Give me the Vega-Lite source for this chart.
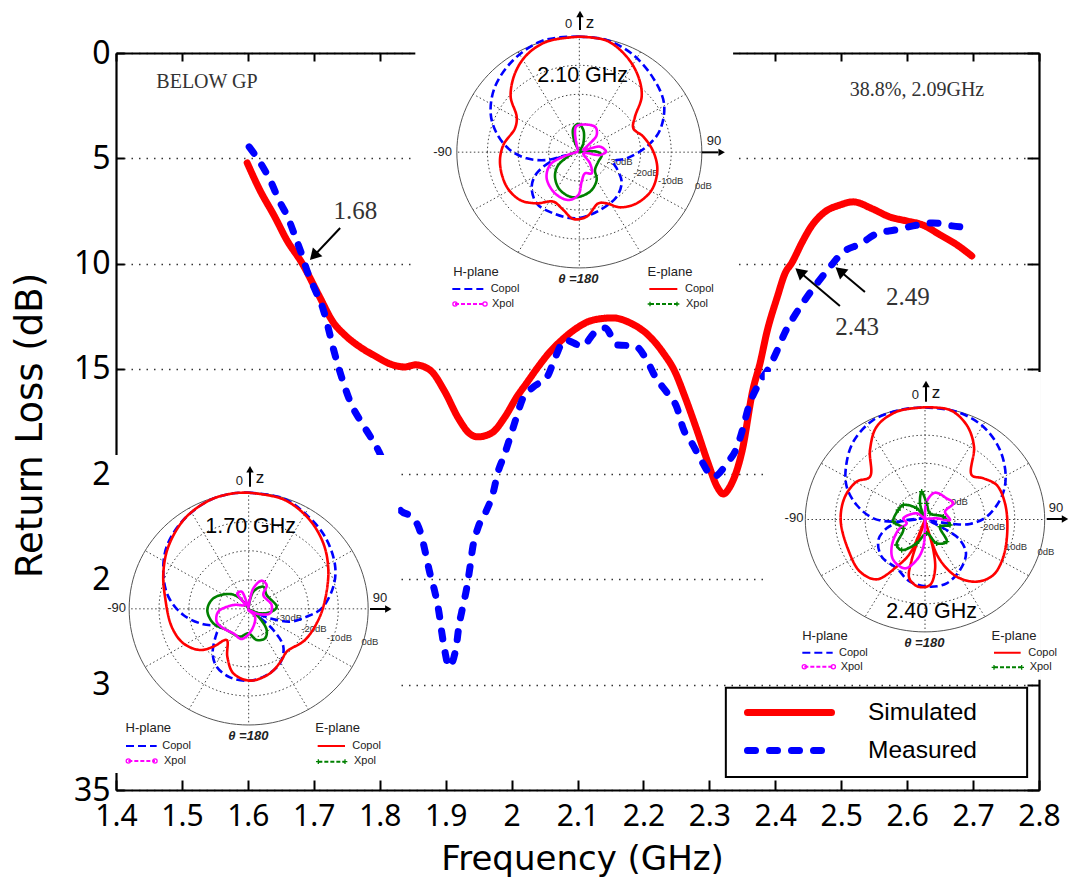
{
"$schema":"https://vega.github.io/schema/vega-lite/v6.json",
"width":923,"height":737,
"autosize":{"type":"none"},
"padding":{"left":116,"top":53,"right":36,"bottom":94},
"background":"white",
"config":{"view":{"stroke":null},"legend":{"symbolType":"M-2.8,0H2.8","symbolSize":900,"symbolStrokeWidth":7,"labelFont":"Liberation Sans","labelFontSize":24.5,"labelColor":"#000","labelOffset":60,"rowPadding":5,"padding":0,"labelLimit":300}},
"resolve":{"scale":{"x":"independent","y":"independent","color":"independent","strokeDash":"independent","size":"independent","shape":"independent"}},
"layer":[
{"data":{"values":[{"f":1.4,"d":0}]},"mark":{"type":"point","opacity":0},
"encoding":{"x":{"field":"f","type":"quantitative","scale":{"domain":[1.4,2.8]},"axis":{"orient":"top","values":[1.4,1.5,1.6,1.7,1.8,1.9,2,2.1,2.2,2.3,2.4,2.5,2.6,2.7,2.8],"labels":false,"title":null,"tickSize":-8,"tickWidth":2,"tickColor":"#000","domainWidth":2.2,"domainColor":"#000","grid":false}},
"y":{"field":"d","type":"quantitative","scale":{"domain":[35,0]},"axis":{"orient":"right","values":[0,5,10,15,20,25,30,35],"labels":false,"title":null,"tickSize":-12,"tickWidth":2,"tickColor":"#000","domainWidth":2.2,"domainColor":"#000","grid":false}}}},
{"encoding":{"x":{"field":"f","type":"quantitative","scale":{"domain":[1.4,2.8]},"axis":{"orient":"bottom","values":[1.4,1.5,1.6,1.7,1.8,1.9,2,2.1,2.2,2.3,2.4,2.5,2.6,2.7,2.8],"format":".2~g","labelOverlap":false,"labelFlush":false,"labelFont":"Noto Sans","labelFontSize":30,"labelColor":"#000","labelPadding":21,"labelDx":5,"tickSize":-10,"tickWidth":2,"tickColor":"#000","domainWidth":2.2,"domainColor":"#000","grid":false,"title":"Frequency  (GHz)","titleFont":"DejaVu Sans","titleFontSize":34,"titleFontWeight":"normal","titleColor":"#000","titleX":466,"titleY":52}},
"y":{"field":"d","type":"quantitative","scale":{"domain":[35,0]},"axis":{"orient":"left","values":[0,5,10,15,20,25,30,35],"labelExpr":"datum.value==20||datum.value==25?'2\u2007':datum.value==30?'3\u2007':datum.label","labelOverlap":false,"labelFlush":false,"labelFont":"Noto Sans","labelFontSize":32,"labelColor":"#000","labelPadding":14,"tickSize":-8,"tickWidth":2,"tickColor":"#000","domainWidth":2.2,"domainColor":"#000","grid":true,"gridDash":[1.5,6],"gridWidth":1.5,"gridColor":"#333","title":"Return Loss (dB)","titleFont":"DejaVu Sans","titleFontSize":37,"titleFontWeight":"normal","titleColor":"#000","titleX":-67,"titleY":372}}},
"layer":[
{"data":{"values":[
{"series":"Simulated","f":1.599,"d":5.22},{"series":"Simulated","f":1.618,"d":6.5},{"series":"Simulated","f":1.641,"d":7.79},{"series":"Simulated","f":1.659,"d":8.88},{"series":"Simulated","f":1.682,"d":9.97},{"series":"Simulated","f":1.709,"d":11.59},{"series":"Simulated","f":1.729,"d":12.77},{"series":"Simulated","f":1.747,"d":13.39},{"series":"Simulated","f":1.77,"d":13.96},{"series":"Simulated","f":1.793,"d":14.39},{"series":"Simulated","f":1.816,"d":14.77},{"series":"Simulated","f":1.838,"d":14.91},{"series":"Simulated","f":1.854,"d":14.81},{"series":"Simulated","f":1.876,"d":15.05},{"series":"Simulated","f":1.899,"d":16.1},{"series":"Simulated","f":1.919,"d":17.33},{"series":"Simulated","f":1.937,"d":18.09},{"series":"Simulated","f":1.949,"d":18.23},{"series":"Simulated","f":1.97,"d":18.04},{"series":"Simulated","f":1.99,"d":17.28},{"series":"Simulated","f":2.008,"d":16.33},{"series":"Simulated","f":2.023,"d":15.67},{"series":"Simulated","f":2.039,"d":14.96},{"series":"Simulated","f":2.058,"d":14.2},{"series":"Simulated","f":2.078,"d":13.58},{"series":"Simulated","f":2.099,"d":13.06},{"series":"Simulated","f":2.124,"d":12.68},{"series":"Simulated","f":2.154,"d":12.58},{"series":"Simulated","f":2.18,"d":12.82},{"series":"Simulated","f":2.207,"d":13.39},{"series":"Simulated","f":2.23,"d":14.24},{"series":"Simulated","f":2.248,"d":15.15},{"series":"Simulated","f":2.263,"d":16.33},{"series":"Simulated","f":2.281,"d":17.9},{"series":"Simulated","f":2.298,"d":19.47},{"series":"Simulated","f":2.312,"d":20.61},{"series":"Simulated","f":2.321,"d":20.94},{"series":"Simulated","f":2.331,"d":20.61},{"series":"Simulated","f":2.35,"d":18.85},{"series":"Simulated","f":2.366,"d":16.0},{"series":"Simulated","f":2.377,"d":14.72},{"series":"Simulated","f":2.387,"d":13.29},{"series":"Simulated","f":2.403,"d":11.59},{"series":"Simulated","f":2.415,"d":10.45},{"series":"Simulated","f":2.425,"d":9.97},{"series":"Simulated","f":2.441,"d":8.97},{"series":"Simulated","f":2.453,"d":8.31},{"series":"Simulated","f":2.475,"d":7.55},{"series":"Simulated","f":2.498,"d":7.22},{"series":"Simulated","f":2.518,"d":7.07},{"series":"Simulated","f":2.548,"d":7.41},{"series":"Simulated","f":2.574,"d":7.79},{"series":"Simulated","f":2.6,"d":7.98},{"series":"Simulated","f":2.624,"d":8.17},{"series":"Simulated","f":2.65,"d":8.64},{"series":"Simulated","f":2.676,"d":9.12},{"series":"Simulated","f":2.698,"d":9.64},
{"series":"Measured","f":1.602,"d":4.46},{"series":"Measured","f":1.621,"d":5.32},{"series":"Measured","f":1.635,"d":6.12},{"series":"Measured","f":1.647,"d":6.98},{"series":"Measured","f":1.661,"d":7.83},{"series":"Measured","f":1.672,"d":8.74},{"series":"Measured","f":1.682,"d":9.59},{"series":"Measured","f":1.691,"d":10.45},{"series":"Measured","f":1.702,"d":11.25},{"series":"Measured","f":1.714,"d":12.15},{"series":"Measured","f":1.722,"d":13.06},{"series":"Measured","f":1.729,"d":13.96},{"series":"Measured","f":1.737,"d":14.86},{"series":"Measured","f":1.746,"d":15.76},{"series":"Measured","f":1.756,"d":16.62},{"series":"Measured","f":1.77,"d":17.43},{"series":"Measured","f":1.785,"d":18.18},{"series":"Measured","f":1.799,"d":18.94},{"series":"Measured","f":1.831,"d":21.7},{"series":"Measured","f":1.851,"d":22.08},{"series":"Measured","f":1.863,"d":22.89},{"series":"Measured","f":1.87,"d":23.83},{"series":"Measured","f":1.876,"d":24.69},{"series":"Measured","f":1.884,"d":25.64},{"series":"Measured","f":1.89,"d":26.59},{"series":"Measured","f":1.894,"d":27.49},{"series":"Measured","f":1.899,"d":28.44},{"series":"Measured","f":1.905,"d":29.15},{"series":"Measured","f":1.916,"d":28.2},{"series":"Measured","f":1.92,"d":27.25},{"series":"Measured","f":1.926,"d":26.3},{"series":"Measured","f":1.932,"d":25.4},{"series":"Measured","f":1.937,"d":24.4},{"series":"Measured","f":1.941,"d":23.5},{"series":"Measured","f":1.949,"d":22.55},{"series":"Measured","f":1.961,"d":21.79},{"series":"Measured","f":1.972,"d":20.89},{"series":"Measured","f":1.979,"d":19.94},{"series":"Measured","f":1.989,"d":19.09},{"series":"Measured","f":1.998,"d":18.23},{"series":"Measured","f":2.007,"d":17.33},{"series":"Measured","f":2.016,"d":16.48},{"series":"Measured","f":2.033,"d":15.86},{"series":"Measured","f":2.054,"d":15.38},{"series":"Measured","f":2.066,"d":14.48},{"series":"Measured","f":2.081,"d":13.63},{"series":"Measured","f":2.107,"d":13.91},{"series":"Measured","f":2.127,"d":13.25},{"series":"Measured","f":2.142,"d":13.06},{"series":"Measured","f":2.16,"d":13.86},{"series":"Measured","f":2.187,"d":13.91},{"series":"Measured","f":2.205,"d":14.58},{"series":"Measured","f":2.218,"d":15.38},{"series":"Measured","f":2.236,"d":16.14},{"series":"Measured","f":2.251,"d":16.86},{"series":"Measured","f":2.26,"d":17.81},{"series":"Measured","f":2.275,"d":18.61},{"series":"Measured","f":2.289,"d":19.42},{"series":"Measured","f":2.306,"d":20.13},{"series":"Measured","f":2.327,"d":19.47},{"series":"Measured","f":2.342,"d":18.71},{"series":"Measured","f":2.351,"d":17.81},{"series":"Measured","f":2.359,"d":16.86},{"series":"Measured","f":2.374,"d":15.76},{"series":"Measured","f":2.391,"d":14.91},{"series":"Measured","f":2.404,"d":14.05},{"series":"Measured","f":2.415,"d":13.25},{"series":"Measured","f":2.43,"d":12.44},{"series":"Measured","f":2.447,"d":11.63},{"series":"Measured","f":2.465,"d":10.87},{"series":"Measured","f":2.483,"d":10.16},{"series":"Measured","f":2.503,"d":9.45},{"series":"Measured","f":2.529,"d":9.07},{"series":"Measured","f":2.553,"d":8.59},{"series":"Measured","f":2.582,"d":8.4},{"series":"Measured","f":2.609,"d":8.21},{"series":"Measured","f":2.639,"d":8.07},{"series":"Measured","f":2.668,"d":8.21},{"series":"Measured","f":2.698,"d":8.31}
]},
"mark":{"type":"line","strokeWidth":7,"strokeCap":"round","strokeJoin":"round","interpolate":"monotone"},
"encoding":{"color":{"field":"series","type":"nominal","scale":{"domain":["Simulated","Measured"],"range":["#ff0000","#0000ff"]},"legend":{"orient":"none","legendX":655,"legendY":641,"title":null,"encode":{"symbols":{"update":{"strokeCap":{"value":"round"}}}}}},
"strokeDash":{"field":"series","type":"nominal","scale":{"domain":["Simulated","Measured"],"range":[[1,0],[8,14]]},"legend":{"orient":"none","legendX":655,"legendY":641,"title":null,"encode":{"symbols":{"update":{"strokeCap":{"value":"round"}}}}}},
"order":{"value":null}}},
{"data":{"values":[{"f":1.74,"d":8.31,"f2":1.7,"d2":9.64},{"f":2.498,"d":12.01,"f2":2.437,"d2":10.4},{"f":2.536,"d":11.35,"f2":2.498,"d2":10.35}]},"mark":{"type":"rule","color":"#000","strokeWidth":2},"encoding":{"x2":{"field":"f2"},"y2":{"field":"d2"}}},
{"data":{"values":[{"f":1.7,"d":9.64}]},"mark":{"type":"point","shape":"triangle-up","filled":true,"color":"#000","opacity":1,"size":170,"angle":223}},
{"data":{"values":[{"f":2.437,"d":10.4},{"f":2.498,"d":10.35}]},"mark":{"type":"point","shape":"triangle-up","filled":true,"color":"#000","opacity":1,"size":170,"angle":310}},
{"data":{"values":[{"t":"1.68","f":1.763,"d":7.5},{"t":"2.43","f":2.524,"d":13.01},{"t":"2.49","f":2.601,"d":11.59}]},"mark":{"type":"text","font":"Liberation Serif","fontSize":25,"color":"#333"},"encoding":{"text":{"field":"t"}}},
{"data":{"values":[{"t":"BELOW GP","f":1.538,"d":1.38},{"t":"38.8%, 2.09GHz","f":2.615,"d":1.76}]},"mark":{"type":"text","font":"Liberation Serif","fontSize":20,"color":"#333"},"encoding":{"text":{"field":"t"}}}
]},
{"data":{"values":[{"f":1.854,"d":-0.2,"f2":2.336,"d2":11.5},{"f":1.3955,"d":19.09,"f2":1.828,"d2":34.19},{"f":2.384,"d":15.15,"f2":2.803,"d2":29.77}]},"mark":{"type":"rect","color":"#fff"},
"encoding":{"x":{"field":"f","type":"quantitative","scale":{"domain":[1.4,2.8]},"axis":null},"x2":{"field":"f2"},"y":{"field":"d","type":"quantitative","scale":{"domain":[35,0]},"axis":null},"y2":{"field":"d2"}}},
{"data":{"values":[{"f":2.325,"d":30.15,"f2":2.782,"d2":34.38}]},"mark":{"type":"rect","fill":"#fff","stroke":"#000","strokeWidth":2},
"encoding":{"x":{"field":"f","type":"quantitative","scale":{"domain":[1.4,2.8]},"axis":null},"x2":{"field":"f2"},"y":{"field":"d","type":"quantitative","scale":{"domain":[35,0]},"axis":null},"y2":{"field":"d2"}}},

{"encoding":{"x":{"field":"u","type":"quantitative","scale":{"domain":[-912,1857]},"axis":null},"y":{"field":"v","type":"quantitative","scale":{"domain":[2370,159]},"axis":null}},
"layer":[
{"data":{"values":[{"u":478,"v":456.5}]},"mark":{"type":"point","shape":"M-1,0A1,0.945,0,1,1,1,0A1,0.945,0,1,1,-1,0Z","size":60025,"stroke":"#555","strokeWidth":1,"filled":false,"opacity":1}},
{"data":{"values":[{"u":478,"v":456.5,"ring":-10},{"u":478,"v":456.5,"ring":-20},{"u":478,"v":456.5,"ring":-30}]},"mark":{"type":"point","shape":"M-1,0A1,0.945,0,1,1,1,0A1,0.945,0,1,1,-1,0Z","stroke":"#444","strokeWidth":1,"strokeDash":[1.5,2.5],"filled":false,"opacity":1},"encoding":{"size":{"field":"ring","type":"quantitative","scale":{"domain":[-30,-20,-10],"range":[3752,15006,33780]},"legend":null}}},
{"data":{"values":[{"u":478,"v":456.5,"u2":478,"v2":109.5},{"u":478,"v":456.5,"u2":661.5,"v2":156},{"u":478,"v":456.5,"u2":796,"v2":283},{"u":478,"v":456.5,"u2":845,"v2":456.5},{"u":478,"v":456.5,"u2":796,"v2":630},{"u":478,"v":456.5,"u2":661.5,"v2":757},{"u":478,"v":456.5,"u2":478,"v2":803.5},{"u":478,"v":456.5,"u2":294.5,"v2":757},{"u":478,"v":456.5,"u2":160,"v2":630},{"u":478,"v":456.5,"u2":111,"v2":456.5},{"u":478,"v":456.5,"u2":160,"v2":283},{"u":478,"v":456.5,"u2":294.5,"v2":156}]},"mark":{"type":"rule","stroke":"#444","strokeWidth":1,"strokeDash":[1.5,2.5]},"encoding":{"x2":{"field":"u2"},"y2":{"field":"v2"}}},
{"data":{"values":[{"t":"-30dB","u":600,"v":485},{"t":"-20dB","u":678,"v":518},{"t":"-10dB","u":752,"v":543},{"t":"0dB","u":850,"v":558}]},"mark":{"type":"text","font":"Liberation Sans","fontSize":9.5,"color":"#333"},"encoding":{"text":{"field":"t"}}},
{"data":{"values":[
{"c":"H Copol","u":478,"v":110},{"c":"H Copol","u":560,"v":120},{"c":"H Copol","u":640,"v":165},{"c":"H Copol","u":700,"v":235},{"c":"H Copol","u":732,"v":310},{"c":"H Copol","u":720,"v":390},{"c":"H Copol","u":680,"v":440},{"c":"H Copol","u":620,"v":475},{"c":"H Copol","u":580,"v":485},{"c":"H Copol","u":590,"v":505},{"c":"H Copol","u":605,"v":545},{"c":"H Copol","u":590,"v":590},{"c":"H Copol","u":540,"v":630},{"c":"H Copol","u":470,"v":655},{"c":"H Copol","u":400,"v":640},{"c":"H Copol","u":350,"v":610},{"c":"H Copol","u":335,"v":560},{"c":"H Copol","u":350,"v":520},{"c":"H Copol","u":400,"v":480},{"c":"H Copol","u":440,"v":465},{"c":"H Copol","u":380,"v":480},{"c":"H Copol","u":320,"v":475},{"c":"H Copol","u":270,"v":450},{"c":"H Copol","u":230,"v":400},{"c":"H Copol","u":212,"v":340},{"c":"H Copol","u":225,"v":260},{"c":"H Copol","u":280,"v":180},{"c":"H Copol","u":360,"v":125},{"c":"H Copol","u":420,"v":112},{"c":"H Copol","u":478,"v":110},
{"c":"E Copol","u":478,"v":110},{"c":"E Copol","u":560,"v":122},{"c":"E Copol","u":620,"v":170},{"c":"E Copol","u":655,"v":230},{"c":"E Copol","u":665,"v":290},{"c":"E Copol","u":645,"v":350},{"c":"E Copol","u":640,"v":385},{"c":"E Copol","u":670,"v":410},{"c":"E Copol","u":700,"v":455},{"c":"E Copol","u":712,"v":510},{"c":"E Copol","u":695,"v":570},{"c":"E Copol","u":650,"v":610},{"c":"E Copol","u":600,"v":622},{"c":"E Copol","u":560,"v":610},{"c":"E Copol","u":535,"v":610},{"c":"E Copol","u":500,"v":650},{"c":"E Copol","u":460,"v":657},{"c":"E Copol","u":430,"v":630},{"c":"E Copol","u":400,"v":605},{"c":"E Copol","u":350,"v":610},{"c":"E Copol","u":300,"v":600},{"c":"E Copol","u":260,"v":560},{"c":"E Copol","u":240,"v":490},{"c":"E Copol","u":250,"v":435},{"c":"E Copol","u":285,"v":385},{"c":"E Copol","u":290,"v":350},{"c":"E Copol","u":272,"v":290},{"c":"E Copol","u":285,"v":220},{"c":"E Copol","u":320,"v":165},{"c":"E Copol","u":380,"v":125},{"c":"E Copol","u":478,"v":110},
{"c":"E Xpol","u":478,"v":455},{"c":"E Xpol","u":462,"v":420},{"c":"E Xpol","u":460,"v":385},{"c":"E Xpol","u":475,"v":372},{"c":"E Xpol","u":490,"v":390},{"c":"E Xpol","u":490,"v":430},{"c":"E Xpol","u":480,"v":455},{"c":"E Xpol","u":490,"v":455},{"c":"E Xpol","u":530,"v":455},{"c":"E Xpol","u":545,"v":465},{"c":"E Xpol","u":535,"v":485},{"c":"E Xpol","u":525,"v":510},{"c":"E Xpol","u":530,"v":540},{"c":"E Xpol","u":510,"v":575},{"c":"E Xpol","u":460,"v":592},{"c":"E Xpol","u":420,"v":570},{"c":"E Xpol","u":405,"v":530},{"c":"E Xpol","u":415,"v":495},{"c":"E Xpol","u":465,"v":455},
{"c":"H Xpol","u":475,"v":455},{"c":"H Xpol","u":465,"v":400},{"c":"H Xpol","u":470,"v":378},{"c":"H Xpol","u":525,"v":380},{"c":"H Xpol","u":530,"v":405},{"c":"H Xpol","u":505,"v":435},{"c":"H Xpol","u":490,"v":450},{"c":"H Xpol","u":540,"v":440},{"c":"H Xpol","u":558,"v":455},{"c":"H Xpol","u":540,"v":465},{"c":"H Xpol","u":490,"v":460},{"c":"H Xpol","u":510,"v":490},{"c":"H Xpol","u":515,"v":520},{"c":"H Xpol","u":495,"v":520},{"c":"H Xpol","u":485,"v":545},{"c":"H Xpol","u":475,"v":585},{"c":"H Xpol","u":445,"v":600},{"c":"H Xpol","u":405,"v":580},{"c":"H Xpol","u":380,"v":535},{"c":"H Xpol","u":390,"v":495},{"c":"H Xpol","u":430,"v":470},{"c":"H Xpol","u":475,"v":455}
]},"mark":{"type":"line","strokeWidth":2.6,"interpolate":"catmull-rom"},"encoding":{"color":{"field":"c","type":"nominal","scale":{"domain":["H Copol","H Xpol","E Copol","E Xpol","H key","E key"],"range":["#0000ff","#ff00ff","#ff0000","#008000","#ff00ff","#008000"]},"legend":null},"strokeDash":{"field":"c","type":"nominal","scale":{"domain":["H Copol","H Xpol","E Copol","E Xpol","H key","E key"],"range":[[8,4],[1,0],[1,0],[1,0],[4,2],[4,2]]},"legend":null},"order":{"value":null}}},
{"data":{"values":[{"c":"H Copol","u":97,"v":867,"u2":190,"v2":867},{"c":"E Copol","u":688,"v":867,"u2":772,"v2":867},{"c":"H key","u":105,"v":912,"u2":195,"v2":912},{"c":"E key","u":690,"v":912,"u2":771,"v2":912}]},"mark":{"type":"rule","strokeWidth":2},"encoding":{"x2":{"field":"u2"},"y2":{"field":"v2"},"color":{"field":"c","type":"nominal","legend":null},"strokeDash":{"field":"c","type":"nominal","legend":null}}},
{"data":{"values":[{"u":105,"v":912},{"u":195,"v":912}]},"mark":{"type":"point","shape":"circle","size":18,"stroke":"#ff00ff","strokeWidth":1.3,"filled":false,"opacity":1}},
{"data":{"values":[{"u":690,"v":912},{"u":771,"v":912}]},"mark":{"type":"point","shape":"M-1,0H1M0,-1V1","size":22,"stroke":"#008000","strokeWidth":1.3,"filled":false,"opacity":1}},
{"data":{"values":[{"u":480,"v":90,"u2":480,"v2":50},{"u":845,"v":457,"u2":895,"v2":457}]},"mark":{"type":"rule","color":"#000","strokeWidth":2},"encoding":{"x2":{"field":"u2"},"y2":{"field":"v2"}}},
{"data":{"values":[{"u":480,"v":42}]},"mark":{"type":"point","shape":"triangle-up","size":55,"filled":true,"color":"#000","opacity":1}},
{"data":{"values":[{"u":905,"v":457}]},"mark":{"type":"point","shape":"triangle-right","size":55,"filled":true,"color":"#000","opacity":1}},
{"data":{"values":[{"t":"2.10 GHz","u":488,"v":228}]},"mark":{"type":"text","font":"Liberation Sans","fontSize":21.5,"color":"#000"},"encoding":{"text":{"field":"t"}}},
{"data":{"values":[{"t":"z","u":510,"v":68}]},"mark":{"type":"text","font":"Liberation Sans","fontSize":17,"color":"#111"},"encoding":{"text":{"field":"t"}}},
{"data":{"values":[{"t":"-90","u":68,"v":455},{"t":"90","u":882,"v":423},{"t":"0","u":446,"v":72},{"t":"H-plane","u":168,"v":815},{"t":"E-plane","u":750,"v":815}]},"mark":{"type":"text","font":"Liberation Sans","fontSize":13,"color":"#222"},"encoding":{"text":{"field":"t"}}},
{"data":{"values":[{"t":"Copol","u":255,"v":866},{"t":"Copol","u":838,"v":868},{"t":"Xpol","u":249,"v":912},{"t":"Xpol","u":831,"v":912}]},"mark":{"type":"text","font":"Liberation Sans","fontSize":11,"color":"#222"},"encoding":{"text":{"field":"t"}}},
{"data":{"values":[{"t":"θ =180","u":475,"v":838}]},"mark":{"type":"text","font":"Liberation Sans","fontSize":13,"fontStyle":"italic","fontWeight":"bold","color":"#222"},"encoding":{"text":{"field":"t"}}}
],"resolve":{"scale":{"size":"independent"}}},

{"encoding":{"x":{"field":"u","type":"quantitative","scale":{"domain":[348,3117]},"axis":null},"y":{"field":"v","type":"quantitative","scale":{"domain":[1050,-1161]},"axis":null}},
"layer":[
{"data":{"values":[{"u":746,"v":506.5}]},"mark":{"type":"point","shape":"M-1,0A1,0.972,0,1,1,1,0A1,0.972,0,1,1,-1,0Z","size":57121,"stroke":"#555","strokeWidth":1,"filled":false,"opacity":1}},
{"data":{"values":[{"u":746,"v":506.5,"ring":-10},{"u":746,"v":506.5,"ring":-20},{"u":746,"v":506.5,"ring":-30}]},"mark":{"type":"point","shape":"M-1,0A1,0.972,0,1,1,1,0A1,0.972,0,1,1,-1,0Z","stroke":"#444","strokeWidth":1,"strokeDash":[1.5,2.5],"filled":false,"opacity":1},"encoding":{"size":{"field":"ring","type":"quantitative","scale":{"domain":[-30,-20,-10],"range":[3570,14280,32131]},"legend":null}}},
{"data":{"values":[{"u":746,"v":506.5,"u2":746,"v2":158},{"u":746,"v":506.5,"u2":925,"v2":204.7},{"u":746,"v":506.5,"u2":1056.5,"v2":332},{"u":746,"v":506.5,"u2":1104.5,"v2":506.5},{"u":746,"v":506.5,"u2":1056.5,"v2":681},{"u":746,"v":506.5,"u2":925,"v2":808},{"u":746,"v":506.5,"u2":746,"v2":855},{"u":746,"v":506.5,"u2":567,"v2":808},{"u":746,"v":506.5,"u2":435.5,"v2":681},{"u":746,"v":506.5,"u2":387.5,"v2":506.5},{"u":746,"v":506.5,"u2":435.5,"v2":332},{"u":746,"v":506.5,"u2":567,"v2":204.7}]},"mark":{"type":"rule","stroke":"#444","strokeWidth":1,"strokeDash":[1.5,2.5]},"encoding":{"x2":{"field":"u2"},"y2":{"field":"v2"}}},
{"data":{"values":[{"t":"-30dB","u":868,"v":533},{"t":"-20dB","u":942,"v":568},{"t":"-10dB","u":1018,"v":595},{"t":"0dB","u":1110,"v":607}]},"mark":{"type":"text","font":"Liberation Sans","fontSize":9.5,"color":"#333"},"encoding":{"text":{"field":"t"}}},
{"data":{"values":[
{"c":"H Copol","u":746,"v":158},{"c":"H Copol","u":850,"v":175},{"c":"H Copol","u":920,"v":225},{"c":"H Copol","u":975,"v":290},{"c":"H Copol","u":1005,"v":375},{"c":"H Copol","u":1000,"v":440},{"c":"H Copol","u":965,"v":505},{"c":"H Copol","u":920,"v":530},{"c":"H Copol","u":870,"v":545},{"c":"H Copol","u":810,"v":535},{"c":"H Copol","u":775,"v":525},{"c":"H Copol","u":820,"v":570},{"c":"H Copol","u":850,"v":620},{"c":"H Copol","u":840,"v":670},{"c":"H Copol","u":800,"v":705},{"c":"H Copol","u":750,"v":722},{"c":"H Copol","u":690,"v":712},{"c":"H Copol","u":650,"v":680},{"c":"H Copol","u":638,"v":640},{"c":"H Copol","u":650,"v":580},{"c":"H Copol","u":660,"v":560},{"c":"H Copol","u":610,"v":553},{"c":"H Copol","u":550,"v":525},{"c":"H Copol","u":505,"v":470},{"c":"H Copol","u":490,"v":400},{"c":"H Copol","u":500,"v":320},{"c":"H Copol","u":550,"v":240},{"c":"H Copol","u":630,"v":180},{"c":"H Copol","u":700,"v":160},{"c":"H Copol","u":746,"v":158},
{"c":"E Copol","u":746,"v":158},{"c":"E Copol","u":850,"v":178},{"c":"E Copol","u":925,"v":235},{"c":"E Copol","u":970,"v":310},{"c":"E Copol","u":985,"v":390},{"c":"E Copol","u":975,"v":480},{"c":"E Copol","u":955,"v":540},{"c":"E Copol","u":915,"v":600},{"c":"E Copol","u":860,"v":635},{"c":"E Copol","u":845,"v":660},{"c":"E Copol","u":810,"v":700},{"c":"E Copol","u":750,"v":722},{"c":"E Copol","u":700,"v":700},{"c":"E Copol","u":682,"v":650},{"c":"E Copol","u":680,"v":600},{"c":"E Copol","u":640,"v":620},{"c":"E Copol","u":600,"v":630},{"c":"E Copol","u":550,"v":610},{"c":"E Copol","u":515,"v":560},{"c":"E Copol","u":495,"v":470},{"c":"E Copol","u":490,"v":400},{"c":"E Copol","u":505,"v":320},{"c":"E Copol","u":555,"v":235},{"c":"E Copol","u":630,"v":180},{"c":"E Copol","u":700,"v":160},{"c":"E Copol","u":746,"v":158},
{"c":"E Xpol","u":745,"v":505},{"c":"E Xpol","u":760,"v":455},{"c":"E Xpol","u":790,"v":440},{"c":"E Xpol","u":800,"v":465},{"c":"E Xpol","u":830,"v":500},{"c":"E Xpol","u":815,"v":515},{"c":"E Xpol","u":780,"v":520},{"c":"E Xpol","u":750,"v":510},{"c":"E Xpol","u":775,"v":530},{"c":"E Xpol","u":800,"v":570},{"c":"E Xpol","u":795,"v":595},{"c":"E Xpol","u":770,"v":600},{"c":"E Xpol","u":745,"v":580},{"c":"E Xpol","u":720,"v":590},{"c":"E Xpol","u":680,"v":570},{"c":"E Xpol","u":640,"v":550},{"c":"E Xpol","u":622,"v":510},{"c":"E Xpol","u":640,"v":475},{"c":"E Xpol","u":690,"v":462},{"c":"E Xpol","u":720,"v":475},{"c":"E Xpol","u":745,"v":505},
{"c":"H Xpol","u":745,"v":505},{"c":"H Xpol","u":760,"v":445},{"c":"H Xpol","u":785,"v":422},{"c":"H Xpol","u":800,"v":435},{"c":"H Xpol","u":790,"v":465},{"c":"H Xpol","u":815,"v":495},{"c":"H Xpol","u":810,"v":520},{"c":"H Xpol","u":775,"v":522},{"c":"H Xpol","u":745,"v":510},{"c":"H Xpol","u":765,"v":530},{"c":"H Xpol","u":755,"v":570},{"c":"H Xpol","u":725,"v":597},{"c":"H Xpol","u":700,"v":580},{"c":"H Xpol","u":670,"v":565},{"c":"H Xpol","u":650,"v":545},{"c":"H Xpol","u":655,"v":515},{"c":"H Xpol","u":700,"v":495},{"c":"H Xpol","u":735,"v":495},{"c":"H Xpol","u":725,"v":480},{"c":"H Xpol","u":712,"v":460},{"c":"H Xpol","u":725,"v":455},{"c":"H Xpol","u":745,"v":505}
]},"mark":{"type":"line","strokeWidth":2.6,"interpolate":"catmull-rom"},"encoding":{"color":{"field":"c","type":"nominal","scale":{"domain":["H Copol","H Xpol","E Copol","E Xpol","H key","E key"],"range":["#0000ff","#ff00ff","#ff0000","#008000","#ff00ff","#008000"]},"legend":null},"strokeDash":{"field":"c","type":"nominal","scale":{"domain":["H Copol","H Xpol","E Copol","E Xpol","H key","E key"],"range":[[8,4],[1,0],[1,0],[1,0],[4,2],[4,2]]},"legend":null},"order":{"value":null}}},
{"data":{"values":[{"c":"H Copol","u":378,"v":918,"u2":470,"v2":918},{"c":"E Copol","u":953,"v":918,"u2":1035,"v2":918},{"c":"H key","u":385,"v":963,"u2":465,"v2":963},{"c":"E key","u":955,"v":965,"u2":1035,"v2":965}]},"mark":{"type":"rule","strokeWidth":2},"encoding":{"x2":{"field":"u2"},"y2":{"field":"v2"},"color":{"field":"c","type":"nominal","legend":null},"strokeDash":{"field":"c","type":"nominal","legend":null}}},
{"data":{"values":[{"u":385,"v":963},{"u":465,"v":963}]},"mark":{"type":"point","shape":"circle","size":18,"stroke":"#ff00ff","strokeWidth":1.3,"filled":false,"opacity":1}},
{"data":{"values":[{"u":955,"v":965},{"u":1035,"v":965}]},"mark":{"type":"point","shape":"M-1,0H1M0,-1V1","size":22,"stroke":"#008000","strokeWidth":1.3,"filled":false,"opacity":1}},
{"data":{"values":[{"u":750,"v":140,"u2":750,"v2":95},{"u":1110,"v":507,"u2":1160,"v2":507}]},"mark":{"type":"rule","color":"#000","strokeWidth":2},"encoding":{"x2":{"field":"u2"},"y2":{"field":"v2"}}},
{"data":{"values":[{"u":750,"v":88}]},"mark":{"type":"point","shape":"triangle-up","size":55,"filled":true,"color":"#000","opacity":1}},
{"data":{"values":[{"u":1165,"v":507}]},"mark":{"type":"point","shape":"triangle-right","size":55,"filled":true,"color":"#000","opacity":1}},
{"data":{"values":[{"t":"1.70 GHz","u":752,"v":262}]},"mark":{"type":"text","font":"Liberation Sans","fontSize":21.5,"color":"#000"},"encoding":{"text":{"field":"t"}}},
{"data":{"values":[{"t":"z","u":780,"v":115}]},"mark":{"type":"text","font":"Liberation Sans","fontSize":17,"color":"#111"},"encoding":{"text":{"field":"t"}}},
{"data":{"values":[{"t":"-90","u":350,"v":503},{"t":"90","u":1140,"v":473},{"t":"0","u":718,"v":122},{"t":"H-plane","u":445,"v":865},{"t":"E-plane","u":1013,"v":865}]},"mark":{"type":"text","font":"Liberation Sans","fontSize":13,"color":"#222"},"encoding":{"text":{"field":"t"}}},
{"data":{"values":[{"t":"Copol","u":530,"v":917},{"t":"Copol","u":1100,"v":919},{"t":"Xpol","u":525,"v":963},{"t":"Xpol","u":1095,"v":963}]},"mark":{"type":"text","font":"Liberation Sans","fontSize":11,"color":"#222"},"encoding":{"text":{"field":"t"}}},
{"data":{"values":[{"t":"θ =180","u":745,"v":888}]},"mark":{"type":"text","font":"Liberation Sans","fontSize":13,"fontStyle":"italic","fontWeight":"bold","color":"#222"},"encoding":{"text":{"field":"t"}}}
],"resolve":{"scale":{"size":"independent"}}},

{"encoding":{"x":{"field":"u","type":"quantitative","scale":{"domain":[-1962,807]},"axis":null},"y":{"field":"v","type":"quantitative","scale":{"domain":[1260,-951]},"axis":null}},
"layer":[
{"data":{"values":[{"u":465,"v":448.5}]},"mark":{"type":"point","shape":"M-1,0A1,0.939,0,1,1,1,0A1,0.939,0,1,1,-1,0Z","size":57312,"stroke":"#555","strokeWidth":1,"filled":false,"opacity":1}},
{"data":{"values":[{"u":465,"v":448.5,"ring":-10},{"u":465,"v":448.5,"ring":-20},{"u":465,"v":448.5,"ring":-30}]},"mark":{"type":"point","shape":"M-1,0A1,0.939,0,1,1,1,0A1,0.939,0,1,1,-1,0Z","stroke":"#444","strokeWidth":1,"strokeDash":[1.5,2.5],"filled":false,"opacity":1},"encoding":{"size":{"field":"ring","type":"quantitative","scale":{"domain":[-30,-20,-10],"range":[3582,14328,32238]},"legend":null}}},
{"data":{"values":[{"u":465,"v":448.5,"u2":465,"v2":111.5},{"u":465,"v":448.5,"u2":644.5,"v2":156.7},{"u":465,"v":448.5,"u2":776,"v2":280},{"u":465,"v":448.5,"u2":824,"v2":448.5},{"u":465,"v":448.5,"u2":776,"v2":617},{"u":465,"v":448.5,"u2":644.5,"v2":740},{"u":465,"v":448.5,"u2":465,"v2":785.5},{"u":465,"v":448.5,"u2":285.5,"v2":740},{"u":465,"v":448.5,"u2":154,"v2":617},{"u":465,"v":448.5,"u2":106,"v2":448.5},{"u":465,"v":448.5,"u2":154,"v2":280},{"u":465,"v":448.5,"u2":285.5,"v2":156.7}]},"mark":{"type":"rule","stroke":"#444","strokeWidth":1,"strokeDash":[1.5,2.5]},"encoding":{"x2":{"field":"u2"},"y2":{"field":"v2"}}},
{"data":{"values":[{"t":"0dB","u":568,"v":395},{"t":"-20dB","u":668,"v":472},{"t":"10dB","u":738,"v":532},{"t":"0dB","u":828,"v":545}]},"mark":{"type":"text","font":"Liberation Sans","fontSize":9.5,"color":"#333"},"encoding":{"text":{"field":"t"}}},
{"data":{"values":[
{"c":"H Copol","u":465,"v":112},{"c":"H Copol","u":560,"v":125},{"c":"H Copol","u":640,"v":170},{"c":"H Copol","u":690,"v":240},{"c":"H Copol","u":707,"v":320},{"c":"H Copol","u":695,"v":380},{"c":"H Copol","u":650,"v":440},{"c":"H Copol","u":600,"v":462},{"c":"H Copol","u":550,"v":462},{"c":"H Copol","u":500,"v":455},{"c":"H Copol","u":475,"v":450},{"c":"H Copol","u":530,"v":480},{"c":"H Copol","u":570,"v":510},{"c":"H Copol","u":588,"v":550},{"c":"H Copol","u":570,"v":600},{"c":"H Copol","u":530,"v":640},{"c":"H Copol","u":480,"v":650},{"c":"H Copol","u":420,"v":635},{"c":"H Copol","u":380,"v":595},{"c":"H Copol","u":335,"v":560},{"c":"H Copol","u":325,"v":510},{"c":"H Copol","u":350,"v":475},{"c":"H Copol","u":400,"v":452},{"c":"H Copol","u":460,"v":445},{"c":"H Copol","u":370,"v":455},{"c":"H Copol","u":310,"v":445},{"c":"H Copol","u":260,"v":405},{"c":"H Copol","u":230,"v":350},{"c":"H Copol","u":228,"v":290},{"c":"H Copol","u":250,"v":215},{"c":"H Copol","u":310,"v":150},{"c":"H Copol","u":400,"v":118},{"c":"H Copol","u":465,"v":112},
{"c":"E Copol","u":465,"v":112},{"c":"E Copol","u":540,"v":120},{"c":"E Copol","u":590,"v":165},{"c":"E Copol","u":612,"v":230},{"c":"E Copol","u":605,"v":315},{"c":"E Copol","u":640,"v":325},{"c":"E Copol","u":680,"v":345},{"c":"E Copol","u":705,"v":400},{"c":"E Copol","u":712,"v":480},{"c":"E Copol","u":700,"v":560},{"c":"E Copol","u":670,"v":615},{"c":"E Copol","u":620,"v":635},{"c":"E Copol","u":560,"v":620},{"c":"E Copol","u":510,"v":570},{"c":"E Copol","u":480,"v":500},{"c":"E Copol","u":465,"v":450},{"c":"E Copol","u":490,"v":540},{"c":"E Copol","u":495,"v":600},{"c":"E Copol","u":480,"v":645},{"c":"E Copol","u":445,"v":650},{"c":"E Copol","u":418,"v":625},{"c":"E Copol","u":425,"v":570},{"c":"E Copol","u":465,"v":450},{"c":"E Copol","u":420,"v":550},{"c":"E Copol","u":380,"v":590},{"c":"E Copol","u":320,"v":628},{"c":"E Copol","u":270,"v":605},{"c":"E Copol","u":235,"v":540},{"c":"E Copol","u":212,"v":450},{"c":"E Copol","u":225,"v":380},{"c":"E Copol","u":260,"v":335},{"c":"E Copol","u":300,"v":320},{"c":"E Copol","u":300,"v":240},{"c":"E Copol","u":320,"v":170},{"c":"E Copol","u":380,"v":125},{"c":"E Copol","u":465,"v":112},
{"c":"E Xpol","u":465,"v":445},{"c":"E Xpol","u":450,"v":400},{"c":"E Xpol","u":455,"v":365},{"c":"E Xpol","u":470,"v":400},{"c":"E Xpol","u":480,"v":430},{"c":"E Xpol","u":520,"v":440},{"c":"E Xpol","u":540,"v":465},{"c":"E Xpol","u":510,"v":470},{"c":"E Xpol","u":530,"v":515},{"c":"E Xpol","u":500,"v":520},{"c":"E Xpol","u":470,"v":490},{"c":"E Xpol","u":440,"v":520},{"c":"E Xpol","u":395,"v":540},{"c":"E Xpol","u":380,"v":525},{"c":"E Xpol","u":400,"v":475},{"c":"E Xpol","u":370,"v":455},{"c":"E Xpol","u":385,"v":420},{"c":"E Xpol","u":400,"v":405},{"c":"E Xpol","u":440,"v":415},{"c":"E Xpol","u":465,"v":445},
{"c":"H Xpol","u":465,"v":445},{"c":"H Xpol","u":470,"v":395},{"c":"H Xpol","u":495,"v":368},{"c":"H Xpol","u":530,"v":385},{"c":"H Xpol","u":550,"v":400},{"c":"H Xpol","u":525,"v":425},{"c":"H Xpol","u":540,"v":450},{"c":"H Xpol","u":500,"v":445},{"c":"H Xpol","u":465,"v":445},{"c":"H Xpol","u":440,"v":430},{"c":"H Xpol","u":400,"v":445},{"c":"H Xpol","u":410,"v":460},{"c":"H Xpol","u":385,"v":480},{"c":"H Xpol","u":365,"v":530},{"c":"H Xpol","u":370,"v":570},{"c":"H Xpol","u":405,"v":595},{"c":"H Xpol","u":440,"v":570},{"c":"H Xpol","u":460,"v":530},{"c":"H Xpol","u":465,"v":445}
]},"mark":{"type":"line","strokeWidth":2.6,"interpolate":"catmull-rom"},"encoding":{"color":{"field":"c","type":"nominal","scale":{"domain":["H Copol","H Xpol","E Copol","E Xpol","H key","E key"],"range":["#0000ff","#ff00ff","#ff0000","#008000","#ff00ff","#008000"]},"legend":null},"strokeDash":{"field":"c","type":"nominal","scale":{"domain":["H Copol","H Xpol","E Copol","E Xpol","H key","E key"],"range":[[8,4],[1,0],[1,0],[1,0],[4,2],[4,2]]},"legend":null},"order":{"value":null}}},
{"data":{"values":[{"u":450,"v":400},{"u":455,"v":365},{"u":470,"v":400},{"u":480,"v":430},{"u":520,"v":440},{"u":540,"v":465},{"u":510,"v":470},{"u":530,"v":515},{"u":500,"v":520},{"u":470,"v":490},{"u":440,"v":520},{"u":395,"v":540},{"u":380,"v":525},{"u":400,"v":475},{"u":370,"v":455},{"u":385,"v":420},{"u":400,"v":405},{"u":440,"v":415}]},"mark":{"type":"point","shape":"M-1,0H1M0,-1V1","size":28,"stroke":"#008000","strokeWidth":1.3,"filled":false,"opacity":1}},
{"data":{"values":[{"c":"H Copol","u":97,"v":848,"u2":188,"v2":848},{"c":"E Copol","u":672,"v":848,"u2":752,"v2":848},{"c":"H key","u":103,"v":890,"u2":190,"v2":890},{"c":"E key","u":672,"v":892,"u2":755,"v2":892}]},"mark":{"type":"rule","strokeWidth":2},"encoding":{"x2":{"field":"u2"},"y2":{"field":"v2"},"color":{"field":"c","type":"nominal","legend":null},"strokeDash":{"field":"c","type":"nominal","legend":null}}},
{"data":{"values":[{"u":103,"v":890},{"u":190,"v":890}]},"mark":{"type":"point","shape":"circle","size":18,"stroke":"#ff00ff","strokeWidth":1.3,"filled":false,"opacity":1}},
{"data":{"values":[{"u":672,"v":892},{"u":755,"v":892}]},"mark":{"type":"point","shape":"M-1,0H1M0,-1V1","size":22,"stroke":"#008000","strokeWidth":1.3,"filled":false,"opacity":1}},
{"data":{"values":[{"u":468,"v":95,"u2":468,"v2":50},{"u":830,"v":447,"u2":880,"v2":447}]},"mark":{"type":"rule","color":"#000","strokeWidth":2},"encoding":{"x2":{"field":"u2"},"y2":{"field":"v2"}}},
{"data":{"values":[{"u":468,"v":42}]},"mark":{"type":"point","shape":"triangle-up","size":55,"filled":true,"color":"#000","opacity":1}},
{"data":{"values":[{"u":885,"v":447}]},"mark":{"type":"point","shape":"triangle-right","size":55,"filled":true,"color":"#000","opacity":1}},
{"data":{"values":[{"t":"2.40 GHz","u":485,"v":727}]},"mark":{"type":"text","font":"Liberation Sans","fontSize":21.5,"color":"#000"},"encoding":{"text":{"field":"t"}}},
{"data":{"values":[{"t":"z","u":498,"v":70}]},"mark":{"type":"text","font":"Liberation Sans","fontSize":17,"color":"#111"},"encoding":{"text":{"field":"t"}}},
{"data":{"values":[{"t":"-90","u":72,"v":445},{"t":"90","u":858,"v":415},{"t":"0","u":436,"v":75},{"t":"H-plane","u":165,"v":797},{"t":"E-plane","u":732,"v":797}]},"mark":{"type":"text","font":"Liberation Sans","fontSize":13,"color":"#222"},"encoding":{"text":{"field":"t"}}},
{"data":{"values":[{"t":"Copol","u":250,"v":849},{"t":"Copol","u":818,"v":849},{"t":"Xpol","u":245,"v":892},{"t":"Xpol","u":812,"v":892}]},"mark":{"type":"text","font":"Liberation Sans","fontSize":11,"color":"#222"},"encoding":{"text":{"field":"t"}}},
{"data":{"values":[{"t":"θ =180","u":463,"v":820}]},"mark":{"type":"text","font":"Liberation Sans","fontSize":13,"fontStyle":"italic","fontWeight":"bold","color":"#222"},"encoding":{"text":{"field":"t"}}}
],"resolve":{"scale":{"size":"independent"}}}
]}
